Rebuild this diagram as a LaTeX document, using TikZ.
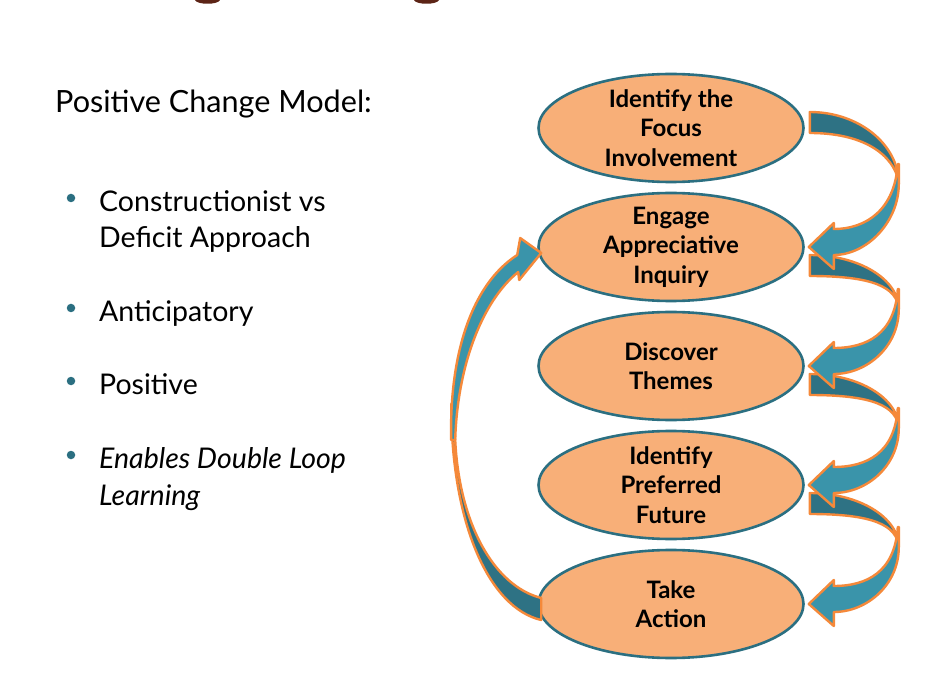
\documentclass[tikz,border=0pt]{standalone}
\usepackage{fontspec}
\setmainfont{Lato}
\usetikzlibrary{shapes.geometric}
\definecolor{stagefill}{HTML}{F8AF78}
\definecolor{stageline}{HTML}{2B6F81}
\definecolor{bandback}{HTML}{2E7284}
\definecolor{bandfront}{HTML}{3A94AA}
\definecolor{bandline}{HTML}{F5893A}
\definecolor{titlebrown}{HTML}{5C2416}

\begin{document}
\begin{tikzpicture}[x=1pt,y=-1pt]
    \tikzstyle{stage}=[ellipse,draw=stageline,line width=2.6pt,fill=stagefill,minimum width=265pt,minimum height=108pt,inner sep=-10pt,align=center,font=\bfseries\fontsize{24}{29.5}\selectfont]
    \tikzstyle{back}=[fill=bandback,draw=bandline,line width=2.4pt,line join=round]
    \tikzstyle{front}=[fill=bandfront,draw=bandline,line width=2.4pt,line join=round]
    \tikzstyle{bullet}=[circle,fill=stageline,minimum size=8.5pt,inner sep=0pt]
    \tikzstyle{item}=[anchor=base west,inner sep=0pt,align=left]

    \useasboundingbox[fill=white] (0,0) rectangle (946,687);

    % cut-off title above
    \fill[titlebrown] (195,0) .. controls (197,5) and (218,5) .. (220,0) -- cycle;
    \fill[titlebrown] (414,0) .. controls (416,5) and (437,5) .. (439,0) -- cycle;

    \node[anchor=base west,inner sep=0pt,font=\fontsize{30.6}{36}\selectfont] (title) at (55,113) {Positive Change Model:};

    % last line baseline / dot height
    \foreach \num/\y/\dy/\shp/\txt in {1/248/198/\upshape/{Constructionist vs\\Deficit Approach}, 2/322/308/\upshape/Anticipatory, 3/395/381/\upshape/Positive, 4/505/455/\itshape/{Enables Double Loop\\Learning}}
    {
        \node[item,font=\fontsize{28.5}{36.5}\selectfont\shp] (item-\num) at (99,\y) {\txt};
        \node[bullet] (dot-\num) at (71,\dy) {};
    }

    \foreach \name/\y/\txt in {focus/128/{Identify the\\Focus\\Involvement}, engage/247/{Engage\\Appreciative\\Inquiry}, themes/366/{Discover\\Themes}, future/485/{Identify\\Preferred\\Future}, action/604/{Take\\Action}}
        \node[stage] (\name) at (671,\y) {\txt};

    % loop back from the last step
    \begin{scope}[shift={(action.west)}]
        \draw[back] (-86,-200) .. controls (-86,-80) and (-48,4) .. (4,16) -- (4,-6) .. controls (-43,-18) and (-78,-80) .. (-82,-164) -- cycle;
        \draw[front] (-20,-349) .. controls (-68,-318) and (-88,-244) .. (-86,-164) -- (-82,-164) .. controls (-80,-236) and (-56,-302) .. (-19,-332) -- (-18,-324) -- (4,-351) -- (-17,-366) -- cycle;
    \end{scope}

    % step to step
    \foreach \src/\t/\r in {focus/-16/56, engage/8/62, themes/8/62, future/8/62}
        \draw[back,shift={(\src.east)}] (5,\t) .. controls (54,\t) and (94,\r-0.55*\r+0.55*\t) .. (94,\r) .. controls (92,\r-22) and (68,\t+21) .. (5,\t+21) -- cycle;
    \foreach \src/\r in {focus/56, engage/62, themes/62, future/62}
        \draw[front,shift={(\src.east)}] (94,\r-20) -- (94,\r) .. controls (94,\r+38) and (62,127) .. (29,127) -- (29,141) -- (4,119) -- (29,95) -- (29,101) .. controls (62,101) and (90,\r+25) .. (93,\r-20) -- cycle;
\end{tikzpicture}
\end{document}
